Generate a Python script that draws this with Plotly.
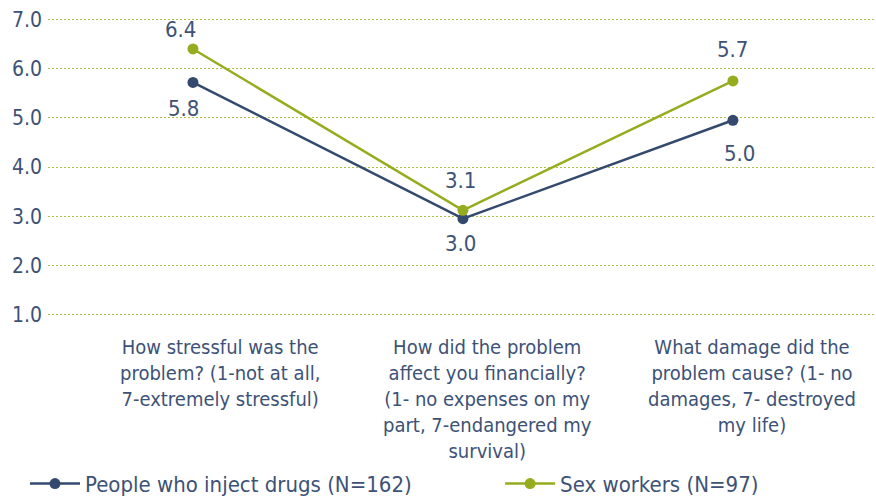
import plotly.graph_objects as go

# --- data ---
categories = [
    "How stressful was the<br>problem? (1-not at all,<br>7-extremely stressful)",
    "How did the problem<br>affect you financially?<br>(1- no expenses on my<br>part, 7-endangered my<br>survival)",
    "What damage did the<br>problem cause? (1- no<br>damages, 7- destroyed<br>my life)",
]
pwid_values = [5.72, 2.95, 4.95]
pwid_labels = ["5.8", "3.0", "5.0"]
sw_values = [6.4, 3.12, 5.75]
sw_labels = ["6.4", "3.1", "5.7"]
y_ticks = [1, 2, 3, 4, 5, 6, 7]

NAVY = "#34496e"
GREEN = "#96ac1f"
GRID = "#aebf45"
TEXT = "#3d5276"
FONT = "DejaVu Sans Condensed, sans-serif"

x = [0, 1, 2]
# label offsets in px (style only)
pwid_shift = [(-9, -26), (-2, -25), (7, -33)]
sw_shift = [(-12, 19), (-2, 30), (0, 31)]
cat_shift = [27, 25, 19]

fig = go.Figure()
fig.add_trace(go.Scatter(
    x=x, y=pwid_values, mode="lines+markers", name="People who inject drugs (N=162)",
    line=dict(color=NAVY, width=2.5), marker=dict(size=11, color=NAVY),
    legend="legend",
))
fig.add_trace(go.Scatter(
    x=x, y=sw_values, mode="lines+markers", name="Sex workers (N=97)",
    line=dict(color=GREEN, width=2.5), marker=dict(size=11, color=GREEN),
    legend="legend2",
))

for vals, labs, shifts in [(pwid_values, pwid_labels, pwid_shift), (sw_values, sw_labels, sw_shift)]:
    for xi, v, t, (dx, dy) in zip(x, vals, labs, shifts):
        fig.add_annotation(x=xi, y=v, text=t, showarrow=False, xshift=dx, yshift=dy,
                           font=dict(size=22, color=TEXT, family=FONT))

# category labels sit a little right of their points in the original
for xi, cat, dx in zip(x, categories, cat_shift):
    fig.add_annotation(x=xi, y=0, yref="paper", text=cat, showarrow=False,
                       xanchor="center", yanchor="top", xshift=dx, yshift=-16,
                       align="center", font=dict(size=20, color=TEXT, family=FONT))

leg = dict(orientation="h", yanchor="middle", y=-0.556, xanchor="left",
           font=dict(size=22, color=TEXT, family=FONT), itemwidth=50,
           bgcolor="rgba(0,0,0,0)")

fig.update_layout(
    width=876, height=497,
    margin=dict(l=48, r=0, t=17, b=180, autoexpand=False),
    plot_bgcolor="white", paper_bgcolor="white",
    font=dict(family=FONT, color=TEXT),
    showlegend=True,
    legend=dict(leg, x=-0.0278),
    legend2=dict(leg, x=0.546),
    xaxis=dict(range=[-0.537, 2.53], tickvals=x, showticklabels=False,
               showgrid=False, zeroline=False, showline=False, ticks="",
               automargin=False),
    yaxis=dict(range=[0.95, 7.05], tickvals=y_ticks,
               ticktext=[f"{v:.1f}" for v in y_ticks],
               showgrid=True, gridcolor=GRID, griddash="2px,2px", gridwidth=1,
               zeroline=False, showline=False, ticks="", automargin=False,
               ticklabelstandoff=5,
               tickfont=dict(size=21, color=TEXT, family=FONT)),
)

# drop the browser's default 8px body margin so the figure sits at the window corner
fig.write_html("out.html", config={"displayModeBar": False},
               post_script="document.body.style.margin='0';")
